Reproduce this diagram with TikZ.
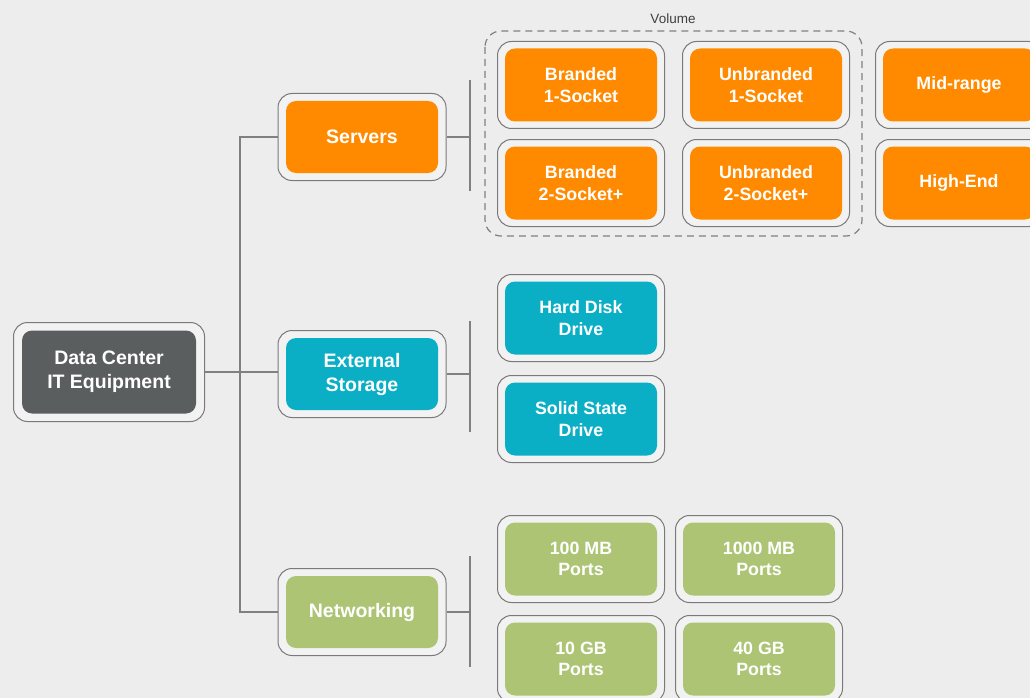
\documentclass[tikz,border=0pt]{standalone}
\usepackage{fontspec}
\setmainfont{Liberation Sans}
\usetikzlibrary{positioning}

\definecolor{bgcol}{HTML}{EDEDED}
\definecolor{framecol}{HTML}{7A7A7A}
\definecolor{framefill}{HTML}{F2F2F2}
\definecolor{linecol}{HTML}{808080}
\definecolor{rootcol}{HTML}{5B5E5F}
\definecolor{servcol}{HTML}{FF8A00}
\definecolor{storcol}{HTML}{0AAFC6}
\definecolor{netcol}{HTML}{ACC474}

\tikzset{
  frame/.style={draw=framecol, fill=framefill, line width=1pt, rounded corners=14pt,
    minimum width=167pt, minimum height=87pt, inner sep=0pt},
  tile/.style={fill=#1, rounded corners=10pt, text=white, align=center, inner sep=0pt,
    font=\bfseries\fontsize{17.8}{21.5}\selectfont, minimum width=152pt, minimum height=73pt},
  maintile/.style={tile=#1, font=\bfseries\fontsize{19.5}{24}\selectfont, minimum height=72pt},
  branch/.style={draw=linecol, line width=1.1pt},
}

\begin{document}
\begin{tikzpicture}[x=1pt,y=-1pt]
  \useasboundingbox (0,0) rectangle (1030,698);
  \clip (0,0) rectangle (1030,698);
  \fill[bgcol] (0,0) rectangle (1030,698);

  % root
  \node[frame, minimum width=191pt, minimum height=99pt] (rootF) at (109,372) {};
  \node[maintile=rootcol, minimum width=174pt, minimum height=83pt] (root) at (109,372) {Data Center\\IT Equipment};

  % first level
  \node[frame, minimum width=168pt] (srvF) at (362,137) {};
  \node[maintile=servcol] (srv) at (362,137) {Servers};
  \node[frame, minimum width=168pt] (stoF) at (362,374) {};
  \node[maintile=storcol] (sto) at (362,374) {External\\Storage};
  \node[frame, minimum width=168pt] (netF) at (362,612) {};
  \node[maintile=netcol] (net) at (362,612) {Networking};

  % trunk
  \coordinate (t1) at (240,137);
  \coordinate (t3) at (240,612);
  \draw[branch] (srvF.west) -- (t1) -- (t3) -- (netF.west);
  \draw[branch] (rootF.east) -- (rootF.east -| stoF.west);

  % branches
  \coordinate (b1t) at (470,80);  \coordinate (b1b) at (470,191);
  \coordinate (b2t) at (470,321); \coordinate (b2b) at (470,432);
  \coordinate (b3t) at (470,556); \coordinate (b3b) at (470,667);
  \draw[branch] (b1t) -- (b1b);
  \draw[branch] (b2t) -- (b2b);
  \draw[branch] (b3t) -- (b3b);
  \draw[branch] (srvF.east) -- (srvF.east -| b1t);
  \draw[branch] (stoF.east) -- (stoF.east -| b2t);
  \draw[branch] (netF.east) -- (netF.east -| b3t);

  % volume group
  \draw[draw=linecol, line width=1.2pt, dash pattern=on 7pt off 5pt, rounded corners=16pt]
    (485,31) rectangle (862,236);
  \node[text=black!75, font=\fontsize{13.5}{16}\selectfont] (vol) at (673,19) {Volume};

  % servers
  \foreach \nm/\x/\y/\txt in {b1/581/85/{Branded\\1-Socket}, b2/581/183/{Branded\\2-Socket+},
      u1/766/85/{Unbranded\\1-Socket}, u2/766/183/{Unbranded\\2-Socket+},
      mid/959/85/{Mid-range}, high/959/183/{High-End}} {
    \node[frame] (\nm F) at (\x,\y) {};
    \node[tile=servcol] (\nm) at (\x,\y) {\txt};
  }

  % storage
  \foreach \nm/\x/\y/\txt in {hdd/581/318/{Hard Disk\\Drive}, ssd/581/419/{Solid State\\Drive}} {
    \node[frame] (\nm F) at (\x,\y) {};
    \node[tile=storcol] (\nm) at (\x,\y) {\txt};
  }

  % networking
  \foreach \nm/\x/\y/\txt in {p100/581/559/{100 MB\\Ports}, p1000/759/559/{1000 MB\\Ports},
      p10/581/659/{10 GB\\Ports}, p40/759/659/{40 GB\\Ports}} {
    \node[frame] (\nm F) at (\x,\y) {};
    \node[tile=netcol] (\nm) at (\x,\y) {\txt};
  }
\end{tikzpicture}
\end{document}
